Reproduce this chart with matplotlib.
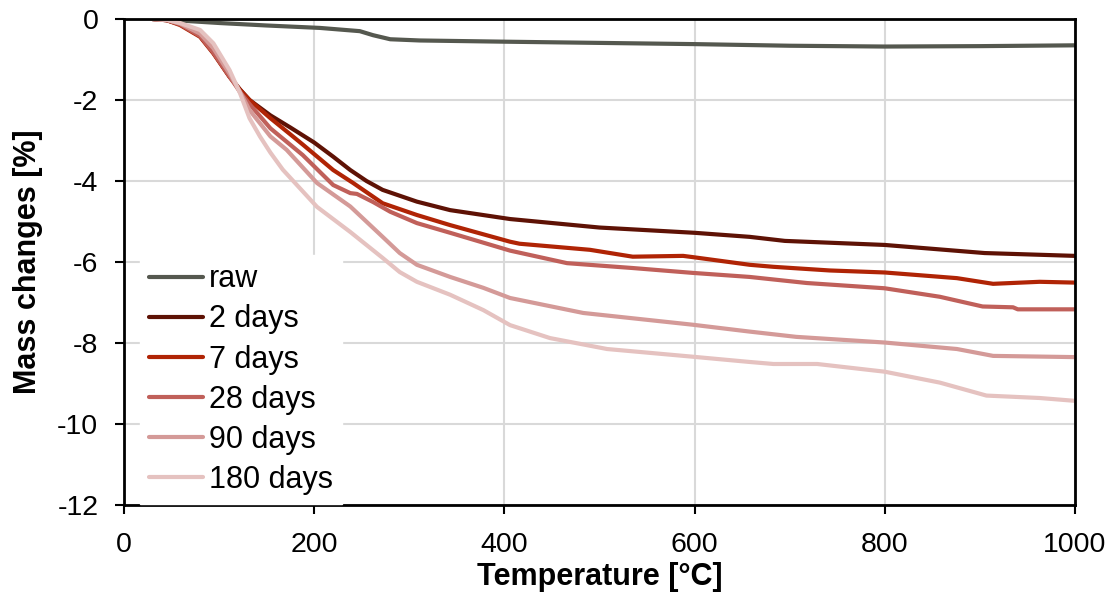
import numpy as np
import matplotlib.pyplot as plt

plt.rcParams['font.family'] = ['Liberation Sans', 'DejaVu Sans']
plt.rcParams['axes.unicode_minus'] = False

# Thermogravimetric curves: temperature [°C] and mass change [%] per sample age
t_raw = [30, 60, 101, 150, 206, 248, 262, 280, 311, 400, 500, 600, 700, 800, 900, 1000]
m_raw = [0, -0.04, -0.1, -0.16, -0.22, -0.3, -0.4, -0.5, -0.53, -0.56, -0.59, -0.62, -0.66, -0.68, -0.67, -0.65]

t_2d = [30, 45, 59, 80, 94, 111, 122, 132, 154, 175, 200, 220, 238, 255, 272, 308, 343, 406, 500, 600, 658,
        695, 800, 905, 1000]
m_2d = [0, -0.03, -0.13, -0.42, -0.83, -1.42, -1.74, -2.0, -2.38, -2.68, -3.05, -3.4, -3.73, -4.0, -4.22,
        -4.51, -4.72, -4.94, -5.15, -5.28, -5.38, -5.48, -5.58, -5.78, -5.85]

t_7d = [30, 45, 59, 80, 94, 111, 122, 132, 154, 175, 188, 220, 241, 272, 308, 343, 406, 416, 490, 535, 588,
        598, 658, 683, 742, 800, 876, 914, 963, 1000]
m_7d = [0, -0.03, -0.15, -0.44, -0.85, -1.43, -1.75, -2.0, -2.45, -2.85, -3.1, -3.73, -4.05, -4.55, -4.84,
        -5.09, -5.5, -5.55, -5.7, -5.87, -5.85, -5.88, -6.07, -6.12, -6.21, -6.26, -6.4, -6.54, -6.49, -6.51]

t_28d = [30, 45, 59, 80, 94, 111, 122, 132, 154, 188, 220, 238, 245, 262, 280, 308, 343, 406, 466, 535, 598,
         658, 718, 800, 858, 903, 935, 940, 1000]
m_28d = [0, -0.03, -0.13, -0.42, -0.83, -1.42, -1.8, -2.1, -2.7, -3.36, -4.1, -4.3, -4.32, -4.52, -4.76,
         -5.04, -5.28, -5.72, -6.03, -6.15, -6.27, -6.37, -6.52, -6.65, -6.86, -7.1, -7.12, -7.17, -7.17]

t_90d = [30, 45, 59, 80, 94, 111, 122, 132, 154, 171, 203, 238, 272, 290, 308, 343, 378, 406, 483, 598, 658,
         707, 800, 876, 914, 1000]
m_90d = [0, -0.02, -0.11, -0.36, -0.72, -1.35, -1.8, -2.25, -2.9, -3.23, -4.05, -4.63, -5.38, -5.78, -6.07,
         -6.37, -6.64, -6.89, -7.26, -7.55, -7.72, -7.85, -7.99, -8.15, -8.32, -8.35]

t_180d = [30, 45, 59, 80, 94, 111, 122, 132, 143, 154, 167, 203, 238, 272, 290, 308, 343, 378, 406, 448, 508,
          598, 658, 683, 729, 800, 858, 907, 963, 1000]
m_180d = [0, -0.02, -0.1, -0.27, -0.6, -1.26, -1.83, -2.45, -2.9, -3.3, -3.72, -4.64, -5.26, -5.9, -6.25,
          -6.49, -6.81, -7.19, -7.56, -7.88, -8.15, -8.34, -8.47, -8.52, -8.52, -8.71, -8.98, -9.3, -9.36, -9.43]

labels = ['raw', '2 days', '7 days', '28 days', '90 days', '180 days']
colors = ['#55584f', '#5e1205', '#b02405', '#c0605a', '#d49a98', '#e5c2c0']
series = [(t_raw, m_raw), (t_2d, m_2d), (t_7d, m_7d),
          (t_28d, m_28d), (t_90d, m_90d), (t_180d, m_180d)]

fig = plt.figure(figsize=(11.2, 5.94), dpi=100)
ax = fig.add_axes([0.1107, 0.150, 0.849, 0.818])

for (t, m), lab, c in zip(series, labels, colors):
    ax.plot(t, m, color=c, lw=3, label=lab, solid_capstyle='round', solid_joinstyle='round')

ax.set_xlim(0, 1000)
ax.set_ylim(-12, 0)
ax.set_xticks(np.arange(0, 1001, 200))
ax.set_yticks(np.arange(-12, 1, 2))
ax.grid(True, color='#d9d9d9', lw=1.5)
ax.set_axisbelow(True)

for s in ax.spines.values():
    s.set_linewidth(2)
    s.set_color('black')

ax.tick_params(axis='both', labelsize=20.5, direction='out', length=6.5, width=1.5)
ax.tick_params(axis='x', pad=13)
ax.tick_params(axis='y', pad=12)
ax.set_xlabel('Temperature [°C]', fontsize=22, fontweight='bold', labelpad=3)
ax.set_ylabel('Mass changes [%]', fontsize=22, fontweight='bold', labelpad=10)

leg = ax.legend(loc='lower left', bbox_to_anchor=(0.017, 0.002), fontsize=22,
                frameon=True, fancybox=False, handlelength=1.75, handletextpad=0.2,
                labelspacing=0.33, borderpad=0.3, borderaxespad=0)
leg.get_frame().set_facecolor('white')
leg.get_frame().set_edgecolor('white')
leg.get_frame().set_alpha(1)

fig.savefig('out.png', dpi=100)
